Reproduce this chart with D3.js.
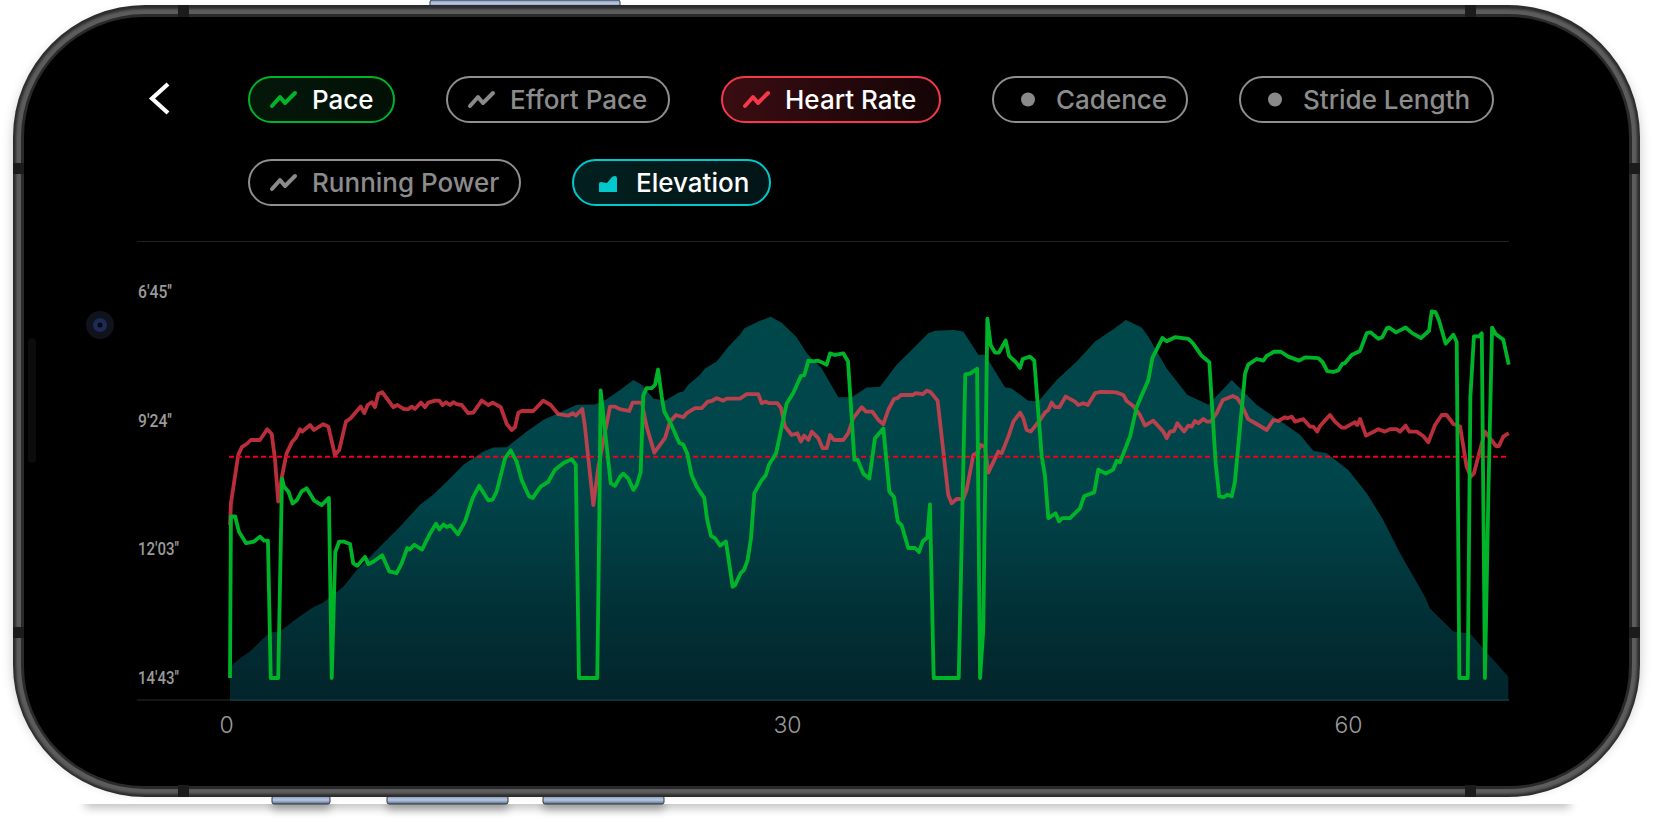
<!DOCTYPE html>
<html><head><meta charset="utf-8">
<script src="https://cdn.jsdelivr.net/npm/d3@7"></script>
<style>html,body{margin:0;padding:0;background:#fff;overflow:hidden}svg{display:block}</style></head>
<body><div id="chart"></div>
<script>
const yTickValues=[405,564,723,883];
const yTickLabels=["6'45''","9'24''","12'03''","14'43''"];
const xTickValues=[0,30,60];
const averagePace=609;
const paceMinutes=[0,.05,.28,.48,.86,1.28,1.6,1.82,2.03,2.18,2.58,2.78,2.89,3.12,3.35,3.57,3.83,4.1,4.49,4.9,5.29,5.44,5.63,5.84,6.06,6.42,6.59,6.81,7.22,7.4,7.66,8.14,8.52,8.91,9.18,9.48,9.59,9.86,10.27,10.7,11.02,11.19,11.41,11.59,11.8,12.19,12.57,12.98,13.32,13.81,14.05,14.26,14.71,15.01,15.33,15.6,15.99,16.19,16.61,17.02,17.38,17.82,18.27,18.49,18.66,19.64,19.75,19.82,20.05,20.36,20.59,20.86,21.03,21.3,21.57,21.75,21.96,22.1,22.28,22.55,22.73,22.89,23.09,23.22,23.53,24.03,24.24,24.45,24.69,24.96,25.36,25.52,25.72,25.94,26.2,26.52,26.88,27.01,27.31,27.49,27.68,27.86,28.04,28.43,28.65,28.82,29.2,29.77,30.12,30.53,30.71,30.93,31.19,31.46,31.91,32.09,32.35,32.8,33.05,33.39,33.57,33.87,34.19,34.49,34.94,35.26,35.51,35.71,35.92,36.27,36.63,36.84,37.04,37.29,37.43,37.63,38.97,39.32,39.57,39.95,40.11,40.28,40.5,40.68,40.91,41.12,41.48,41.66,42.03,42.25,42.39,42.78,43.01,43.41,43.58,43.76,44.15,44.33,44.51,44.92,45.45,45.67,46.22,46.43,46.83,47.22,47.42,47.59,48.13,48.49,49.11,49.32,49.86,50.09,50.53,51.25,51.51,51.96,52.37,52.71,52.9,53.16,53.33,53.57,53.74,54.28,54.45,54.9,55.26,55.44,55.83,56.2,56.59,57.17,57.49,58.2,58.43,58.68,59,59.27,59.48,59.63,59.98,60.43,60.79,61,61.41,61.62,61.86,61.98,62.35,62.87,63.22,63.69,64.12,64.26,64.47,64.65,65.01,65.42,65.6,65.74,66.19,66.33,66.52,66.79,66.94,67.11,67.29,67.49,67.68,68.09,68.38];
const paceSeconds=[883,683,683,702,716,714,708,713,713,883,883,636,646,652,667,663,652,648,663,669,660,883,727,714,714,717,741,744,733,742,739,731,751,753,741,722,724,718,724,704,692,699,693,696,694,705,689,660,645,663,662,652,611,601,615,638,658,660,646,640,625,617,612,619,883,883,687,527,576,642,645,634,630,636,650,644,628,533,524,524,520,501,535,553,566,592,594,605,632,646,660,687,707,710,719,714,770,768,753,749,737,710,654,638,632,619,605,543,530,509,508,490,491,490,495,481,483,481,491,613,613,630,636,586,574,652,659,689,694,722,722,727,714,709,668,883,883,507,506,500,883,824,438,471,480,480,465,484,492,499,488,485,490,609,632,685,679,689,685,685,673,658,653,625,630,625,614,616,584,547,514,487,462,466,461,463,469,484,492,617,658,659,656,658,640,506,495,488,490,484,479,479,485,490,486,487,492,503,504,502,494,493,483,478,456,455,463,461,450,449,455,449,456,462,453,429,430,440,469,458,467,883,883,535,460,460,456,883,659,449,457,464,495];
const heartMinutes=[0,.05,.44,.63,.89,1.11,1.6,1.99,2.23,2.41,2.58,2.76,3.03,3.33,3.51,3.74,3.87,4.28,4.49,4.99,5.26,5.61,5.84,6.2,6.45,6.99,7.18,7.36,7.58,7.75,7.93,8.14,8.73,8.95,9.3,9.53,9.72,9.89,10.21,10.43,10.6,10.96,11.19,11.37,11.55,11.76,11.94,12.12,12.39,12.74,13.01,13.46,13.81,14.05,14.48,14.8,15.06,15.24,15.42,15.6,16.22,16.75,17.15,17.56,18.09,18.33,18.49,18.84,18.98,19.43,19.7,20.05,20.32,20.59,20.86,21.35,21.53,22.02,22.28,22.69,23.26,23.53,23.85,24.24,24.42,24.87,25.22,25.55,25.76,26.03,26.38,26.56,27.27,27.63,28.25,28.43,28.65,28.82,29.27,29.47,29.68,30.04,30.34,30.53,30.7,30.93,31.11,31.46,31.69,31.91,32.09,32.3,32.8,33.06,33.33,33.78,34.01,34.35,34.67,34.94,35.2,35.51,35.68,35.88,36.51,36.68,37.04,37.26,37.47,37.84,38.41,38.59,38.86,39.21,39.39,39.75,39.93,40.14,40.37,40.55,41.09,41.27,41.62,41.89,42.25,42.42,42.6,42.82,43.32,43.58,43.76,43.94,44.12,44.35,44.69,45.19,45.36,45.63,45.87,46.26,46.52,47.24,47.42,47.77,47.95,48.3,48.66,48.93,49.37,49.91,50.09,50.27,50.48,50.66,51.02,51.25,51.43,51.6,51.78,52.05,52.23,52.44,52.76,53.09,53.33,53.62,53.87,54.1,54.45,54.9,55.44,55.79,56.06,56.42,56.56,56.78,56.95,57.4,57.75,57.93,58.14,58.29,58.82,59.09,59.45,59.63,60.16,60.28,60.43,60.75,61.41,61.76,62.03,62.39,62.57,62.87,63.06,63.46,63.81,64.08,64.44,64.8,65.06,65.42,65.78,66.13,66.35,66.52,67.11,67.7,67.86,68.09,68.38];
const heartBpm=[83.5,94.4,118.5,122.4,124,126,126,131.4,129,116,95.2,106.9,119.4,125.2,126.9,131.4,130.2,133.5,131,133.9,132.7,118.5,121,135.2,136.9,142.7,139.4,143.5,144.9,142.4,149,149.9,142.4,143.5,141.4,141.4,142.7,141.5,144.7,142.4,144.7,145.7,145.7,143.5,144.9,143.5,144.9,143.9,143.5,139.4,139.7,145.7,143.5,144.7,142.4,134,131,132.4,139.7,140.5,140.5,145.7,143.5,138.9,138.2,139.4,138.2,141.5,132.7,93.5,112.7,129.4,142.7,142.7,141.4,140.5,144.7,144.7,132.7,119.7,126.9,135.2,138.5,137.4,139.4,141.9,141.9,145.2,145.5,146.9,145.7,146.7,146.7,148.9,148.9,144.4,145.2,144.4,144.4,141.9,132.7,128.5,129.4,125.2,128.2,126,130.2,126.9,121.9,121.9,128.5,126,126,129.4,136.9,142.4,140.2,140.2,136,133.9,141,146.5,146.9,148.5,148.5,149.4,148.9,150.7,149.9,145.7,98.5,94.4,96.5,96.5,101,118.5,119.4,123.5,122.7,109.7,120.2,119.4,127.7,135.2,139.7,136.9,131,130.2,136,139.7,141,144.7,142.4,142.4,147.7,145.2,143.5,144.4,143.5,149.4,150,149.9,149.7,148.5,145.5,143,138.5,133.2,135.7,130.2,126.9,130.2,130.5,134.4,130.2,133.2,132.7,135.5,134.4,136.5,135.2,135.2,139.4,146,146.9,148,146.9,143.5,136.4,134,131,136,135.5,137.4,136.9,137.7,135.2,136.4,132.7,132.7,130.2,133,138.5,135.2,132.2,132.2,134.9,133.5,136.5,128.2,131.4,130.2,131.4,131.4,130.2,133.2,130.2,130.2,128,124.9,133.5,138.5,138.5,134,132.7,112.7,107.7,109.4,130.2,123,123,127.7,129.4];
const elevMinutes=[0,.53,1.07,1.78,2.14,2.67,3.57,4.45,4.99,6.06,6.78,7.49,8.2,9.09,10.16,10.87,11.76,12.48,13.55,14.08,14.8,15.87,16.75,18.54,19.52,20.14,20.86,21.57,22.02,22.64,23.26,23.97,24.24,24.51,25.13,25.4,26.03,26.65,27.27,27.49,28.25,28.91,29.5,30.3,30.84,31.64,32.53,33.25,34.05,34.76,35.65,36.45,37.34,37.7,38.68,39.21,40.02,40.37,41.44,41.8,42.69,43.22,44.21,45.28,46.26,47.24,47.91,48.75,49.11,50.09,51.19,52.32,53.57,54.9,57.22,57.93,58.65,59.8,60.79,61.67,62.57,63.9,64.17,65.42,66.31,68.36];
const elevMetres=[8.3,10.4,12.1,15.4,16.9,17.1,20.4,23.2,24.4,28.3,32.5,35.8,39.2,43.3,48.8,51.3,55.4,58.8,62.1,63.1,63.2,67.1,70,73.8,73.9,75.2,77.5,80,78.8,75.4,74.8,76.8,77.1,78.8,81.3,82.9,84.6,88.3,91.3,92.9,94.6,95.8,94.3,90.7,86.7,82.9,75.7,75.7,78.1,78.3,83.8,87.5,91.7,92.3,92.5,92.1,86.3,86.3,78.2,77.9,74.8,74.6,80,84.6,89.6,92.7,95,93.1,90.8,82.9,76.3,73.8,80,73.8,66.3,62.3,61.7,57.5,51.7,45,36.7,25.8,22.9,17.1,16.6,5.8];
const pillLabels=["Pace","Effort Pace","Heart Rate","Cadence","Stride Length","Running Power","Elevation"];
const pillIcons=["line","line","line","dot","dot","line","area"];
const pillColors=["#00b42a","#8a8a8a","#f5394a","#8a8a8a","#8a8a8a","#8a8a8a","#00c8cc"];
const pillActive=[true,false,true,false,false,false,true];
const pillBoxes=[[248,76,147],[446,76,224],[721,76,220],[992,76,196],[1239,76,255],[248,159,273],[572,159,199]];

const W=1653,H=829;
const svg=d3.select("#chart").append("svg").attr("width",W).attr("height",H);
const defs=svg.append("defs");
defs.append("filter").attr("id","blur").attr("x","-5%").attr("y","-100%").attr("width","110%").attr("height","300%")
  .append("feGaussianBlur").attr("stdDeviation",5);
defs.append("filter").attr("id","blur2").attr("x","-50%").attr("y","-100%").attr("width","200%").attr("height","300%")
  .append("feGaussianBlur").attr("stdDeviation",4);
defs.append("filter").attr("id","soft").append("feGaussianBlur").attr("stdDeviation",1);
defs.append("filter").attr("id","edge").attr("x","-5%").attr("y","-5%").attr("width","110%").attr("height","110%").append("feGaussianBlur").attr("stdDeviation",6);
defs.append("clipPath").attr("id","belowPhone").append("rect").attr("x",0).attr("y",804).attr("width",W).attr("height",25);
const g1=defs.append("linearGradient").attr("id","elev").attr("gradientUnits","userSpaceOnUse").attr("x1",0).attr("x2",0).attr("y1",317).attr("y2",700);
[[0,"#00474a"],[.45,"#00454a"],[.8,"#012f35"],[1,"#02242a"]].forEach(s=>g1.append("stop").attr("offset",s[0]).attr("stop-color",s[1]));
const g2=defs.append("linearGradient").attr("id","band");
g2.attr("x1",0).attr("x2",0).attr("y1",0).attr("y2",1);
[[0,"#8c9ab0"],[.5,"#b5c8e6"],[1,"#5d6b80"]].forEach(s=>g2.append("stop").attr("offset",s[0]).attr("stop-color",s[1]));
const pg=(id,c)=>{const g=defs.append("linearGradient").attr("id",id);g.append("stop").attr("offset",0).attr("stop-color",c[0]);g.append("stop").attr("offset",1).attr("stop-color",c[1]);};
pg("pillPace",["#04180a","#021006"]);pg("pillHeart",["#3a0d12","#140406"]);pg("pillElev",["#02201f","#021416"]);

// device frame
svg.append("rect").attr("x",13).attr("y",12).attr("width",1627).attr("height",780).attr("rx",130).attr("fill","#000").attr("opacity",.22).attr("filter","url(#edge)");
const under=svg.append("g").attr("clip-path","url(#belowPhone)");
under.append("rect").attr("x",85).attr("y",796).attr("width",1485).attr("height",12).attr("fill","#000").attr("opacity",.25).attr("filter","url(#blur)");
[[272,58],[387,121],[543,121]].forEach(b=>
  under.append("rect").attr("x",b[0]).attr("y",800).attr("width",b[1]).attr("height",10).attr("fill","#000").attr("opacity",.28).attr("filter","url(#blur2)"));
[[272,58],[387,121],[543,121]].forEach(b=>
  svg.append("rect").attr("x",b[0]).attr("y",796).attr("width",b[1]).attr("height",8).attr("rx",2).attr("fill","url(#band)").attr("stroke","#2f3846"));
svg.append("rect").attr("x",430).attr("y",0).attr("width",190).attr("height",7).attr("rx",2).attr("fill","url(#band)").attr("stroke","#2f3846");
svg.append("rect").attr("x",13).attr("y",5).attr("width",1627).attr("height",792).attr("rx",132).attr("fill","#2c2c2c");
svg.append("rect").attr("x",16).attr("y",9).attr("width",1621).attr("height",785).attr("rx",128).attr("fill","#5c5c5c").attr("filter","url(#soft)");
svg.append("rect").attr("x",21).attr("y",14).attr("width",1611).attr("height",775).attr("rx",124).attr("fill","#2a2a2a");
svg.append("rect").attr("x",24).attr("y",17).attr("width",1605).attr("height",769).attr("rx",120).attr("fill","#000");
[[178,5,11,12],[1465,5,11,12],[178,785,11,12],[1465,785,11,12],[13,163,11,11],[1629,163,11,11],[13,627,11,11],[1629,627,11,11]].forEach(a=>
  svg.append("rect").attr("x",a[0]).attr("y",a[1]).attr("width",a[2]).attr("height",a[3]).attr("fill","#1b1b1b"));
svg.append("rect").attr("x",28).attr("y",338).attr("width",8).attr("height",125).attr("rx",4).attr("fill","#0c0c0c");
svg.append("circle").attr("cx",100).attr("cy",325).attr("r",14).attr("fill","#10131c");
svg.append("circle").attr("cx",100).attr("cy",325).attr("r",7).attr("fill","#1c2a55");
svg.append("circle").attr("cx",100).attr("cy",325).attr("r",2.5).attr("fill","#05060c");

// back chevron
svg.append("path").attr("d",d3.line()([[168,84],[152,98.5],[168,113]])).attr("fill","none").attr("stroke","#fff").attr("stroke-width",4.2);

// legend pills
const iconLine=[[0,13],[8,4],[13,10],[23,0]];
const pill=svg.selectAll("g.pill").data(pillLabels).join("g").attr("class","pill")
  .attr("transform",(d,i)=>`translate(${pillBoxes[i][0]},${pillBoxes[i][1]})`);
pill.append("rect").attr("x",1).attr("y",1).attr("width",(d,i)=>pillBoxes[i][2]-2).attr("height",45).attr("rx",22.5)
  .attr("stroke-width",2)
  .attr("stroke",(d,i)=>pillColors[i]==="#8a8a8a"?"#8f8f8f":pillColors[i])
  .attr("fill",(d,i)=>i===0?"url(#pillPace)":i===2?"url(#pillHeart)":i===6?"url(#pillElev)":"#000");
pill.each(function(d,i){
  const s=d3.select(this),k=pillIcons[i],c=pillColors[i];
  if(k==="line") s.append("path").attr("transform","translate(24,17)").attr("d",d3.line()(iconLine)).attr("fill","none").attr("stroke",c).attr("stroke-width",4).attr("stroke-linecap","round").attr("stroke-linejoin","round");
  if(k==="dot") s.append("circle").attr("cx",36).attr("cy",23.5).attr("r",7).attr("fill",c);
  if(k==="area") s.append("path").attr("transform","translate(27,17)").attr("d","M0 16V8Q0 6 2 6L8 7L13 1Q18-2 18 3V16Z").attr("fill",c);
});
pill.append("text").attr("x",(d,i)=>pillIcons[i]==="area"?64:64)
  .attr("y",24).attr("dy",".36em").attr("font-family","Inter,Roboto,sans-serif").attr("font-weight",500).attr("font-size",26)
  .attr("fill",(d,i)=>pillActive[i]?"#fff":"#8c8c8c").text(d=>d);

// chart
const x=d3.scaleLinear().domain([0,30]).range([230,791]);
const yPace=d3.scaleLinear().domain([405,883]).range([292,678]);
const yHeart=d3.scaleLinear().domain([200,100]).range([292,492]);
const yElev=d3.scaleLinear().domain([0,96]).range([700,316]);
const xEnd=68.4;

svg.append("line").attr("x1",137).attr("x2",1509).attr("y1",241.5).attr("y2",241.5).attr("stroke","#222");
svg.append("line").attr("x1",137).attr("x2",1509).attr("y1",700).attr("y2",700).attr("stroke","#2a2a2a");

svg.append("path").attr("fill","url(#elev)")
  .attr("d",d3.area().x(d=>x(d[0])).y0(yElev(0)).y1(d=>yElev(d[1]))(d3.zip(elevMinutes,elevMetres)));
svg.append("line").attr("x1",x(0)).attr("x2",x(xEnd)).attr("y1",yElev(0)).attr("y2",yElev(0)).attr("stroke","#0a3d42").attr("stroke-width",1.5);

svg.append("path").attr("fill","none").attr("stroke","#ff4050").attr("stroke-opacity",.72).attr("stroke-width",3.8).attr("stroke-linejoin","round")
  .attr("d",d3.line().x(d=>x(d[0])).y(d=>yHeart(d[1]))(d3.zip(heartMinutes,heartBpm)));
svg.append("line").attr("x1",x(0)-1).attr("x2",x(xEnd)).attr("y1",yPace(averagePace)).attr("y2",yPace(averagePace))
  .attr("stroke","#f0001e").attr("stroke-width",1.8).attr("stroke-dasharray","5 3");
svg.append("path").attr("fill","none").attr("stroke","#00b42a").attr("stroke-width",3.8).attr("stroke-linejoin","round")
  .attr("d",d3.line().x(d=>x(d[0])).y(d=>yPace(d[1]))(d3.zip(paceMinutes,paceSeconds)));

// axes
const axL=svg.append("g").attr("transform","translate(138,0)")
  .call(d3.axisLeft(yPace).tickValues(yTickValues).tickFormat((d,i)=>yTickLabels[i]).tickSize(0));
axL.select(".domain").remove();
axL.selectAll("text").attr("x",0).attr("text-anchor","start").attr("fill","#9a9a9a")
  .attr("font-family","Roboto,sans-serif").attr("font-weight",500).attr("font-size",18.5)
  .attr("textLength",(d,i)=>i<2?34:41).attr("lengthAdjust","spacingAndGlyphs");
const axB=svg.append("g").attr("transform","translate(-4,710)")
  .call(d3.axisBottom(x).tickValues(xTickValues).tickSize(0));
axB.select(".domain").remove();
axB.selectAll("text").attr("y",0).attr("dy","1.0em").attr("fill","#9a9a9a")
  .attr("font-family","Inter,Roboto,sans-serif").attr("font-weight",300).attr("font-size",23);
</script></body></html>
